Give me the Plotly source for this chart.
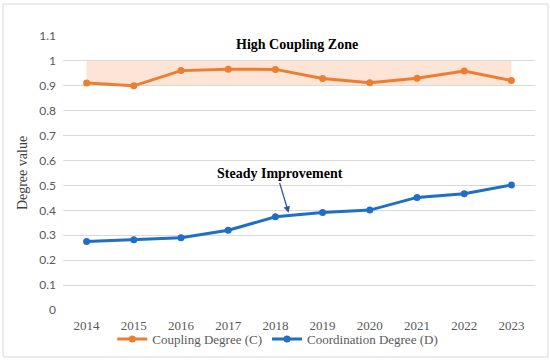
import plotly.graph_objects as go

years = [2014, 2015, 2016, 2017, 2018, 2019, 2020, 2021, 2022, 2023]
coupling = [0.911, 0.900, 0.961, 0.967, 0.966, 0.929, 0.912, 0.930, 0.959, 0.921]
coordination = [0.275, 0.282, 0.290, 0.320, 0.374, 0.391, 0.401, 0.452, 0.467, 0.502]
y_ticks = [0, 0.1, 0.2, 0.3, 0.4, 0.5, 0.6, 0.7, 0.8, 0.9, 1, 1.1]
zone_low, zone_high = 0.9, 1.0

ORANGE = "#ED7D31"
BLUE = "#1F6FC6"
SERIF = "Liberation Serif"

fig = go.Figure()
fig.add_trace(go.Scatter(x=years, y=coupling, mode="lines+markers", name="Coupling Degree (C)",
                         line=dict(color=ORANGE, width=3), marker=dict(size=7, color=ORANGE)))
fig.add_trace(go.Scatter(x=years, y=coordination, mode="lines+markers", name="Coordination Degree (D)",
                         line=dict(color=BLUE, width=3), marker=dict(size=7, color=BLUE)))

# High coupling zone band
fig.add_shape(type="rect", xref="x", yref="y", x0=years[0], x1=years[-1], y0=zone_low, y1=zone_high,
              fillcolor="#FCE4D6", line=dict(width=0), layer="below")

# Outer chart border
fig.add_shape(type="rect", xref="paper", yref="paper", x0=-0.127, x1=1.0275, y0=-0.1715, y1=1.1168,
              line=dict(color="#D9D9D9", width=1), fillcolor="rgba(0,0,0,0)")

fig.add_annotation(x=2018.45, y=1.067, xref="x", yref="y", text="<b>High Coupling Zone</b>",
                   showarrow=False, font=dict(family=SERIF, size=14, color="#000000"))
fig.add_annotation(x=2018.28, y=0.39, xref="x", yref="y", ax=-9, ay=-30,
                   text="<b>Steady Improvement</b>", showarrow=True, arrowhead=2, arrowsize=1,
                   arrowwidth=1.3, arrowcolor="#2F5597", standoff=0,
                   font=dict(family=SERIF, size=14, color="#000000"), yanchor="bottom")

fig.update_layout(
    width=550, height=362,
    margin=dict(l=63, r=15, t=36, b=52, autoexpand=False),
    paper_bgcolor="white", plot_bgcolor="white",
    showlegend=True,
    legend=dict(orientation="h", x=0.455, xanchor="center", y=-0.106, yanchor="middle",
                font=dict(family=SERIF, size=13, color="#595959"), itemwidth=30,
                bgcolor="rgba(0,0,0,0)"),
    xaxis=dict(range=[2013.5, 2023.5], tickmode="array", tickvals=years, ticktext=[str(y) for y in years],
               showgrid=False, zeroline=False, showline=False, automargin=False, ticklabelstandoff=6,
               tickfont=dict(family=SERIF, size=13, color="#595959"), ticks=""),
    yaxis=dict(range=[0, 1.1], tickmode="array", tickvals=y_ticks,
               ticktext=["0", "0.1", "0.2", "0.3", "0.4", "0.5", "0.6", "0.7", "0.8", "0.9", "1", "1.1"],
               showgrid=True, gridcolor="#D9D9D9", gridwidth=1, zeroline=False, showline=False, automargin=False,
               ticklabelstandoff=6,
               tickfont=dict(family="Lato", size=12, color="#595959"),
               title=dict(text="Degree value", font=dict(family=SERIF, size=14, color="#404040"), standoff=8)),
)

fig.write_html("out.html", config={"displayModeBar": False},
               post_script="document.body.style.margin='0';")
